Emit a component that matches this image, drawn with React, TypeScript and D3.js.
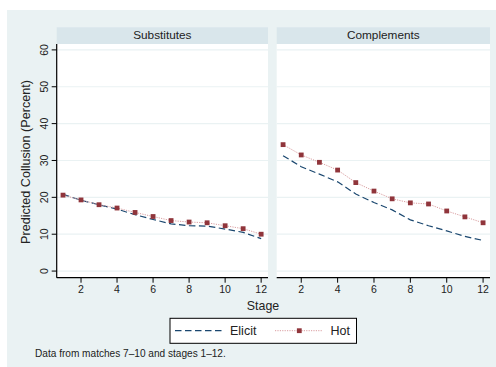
import React from "react";
import * as d3 from "d3";

const stages = [1, 2, 3, 4, 5, 6, 7, 8, 9, 10, 11, 12];
const panels = ["Substitutes", "Complements"];
const subElicit = [20.8, 19.2, 18.0, 16.8, 15.3, 14.0, 12.8, 12.3, 12.2, 11.4, 10.5, 8.8];
const subHot = [20.6, 19.3, 18.0, 17.1, 15.9, 14.8, 13.7, 13.3, 13.1, 12.3, 11.5, 10.0];
const compElicit = [31.3, 28.3, 26.3, 24.2, 20.9, 18.6, 16.6, 13.9, 12.3, 10.9, 9.4, 8.3];
const compHot = [34.3, 31.5, 29.5, 27.4, 24.0, 21.7, 19.6, 18.5, 18.2, 16.3, 14.7, 13.1];
const yTicks = [0, 10, 20, 30, 40, 50, 60];
const xTicks = [2, 4, 6, 8, 10, 12];
const seriesNames = ["Elicit", "Hot"];

const FONT = "'Liberation Sans', Arial, Helvetica, sans-serif";
const NAVY = "#1a476f";
const MAROON = "#90353b";
const HOTLINE = "#d99da0";
const BG = "#eaf2f3";
const STRIP = "#d9e6eb";

export default function App() {
  const top = 44;
  const bottom = 277.7;
  const y = d3.scaleLinear().domain([-1.8, 61.6]).range([bottom, top]);
  const ranges: [number, number][] = [
    [56.7, 268],
    [276.7, 490],
  ];
  const data = [
    [subElicit, subHot],
    [compElicit, compHot],
  ];

  return (
    <svg
      width={496}
      height={367}
      style={{ position: "absolute", left: 0, top: 0, fontFamily: FONT }}
    >
      <rect x={0} y={0} width={496} height={367} fill="#ffffff" />
      <rect x={7} y={10} width={489} height={357} fill={BG} />
      {panels.map((name, pi) => {
        const [x0, x1] = ranges[pi];
        const x = d3.scaleLinear().domain([0.65, 12.38]).range([x0, x1]);
        const [el, hot] = data[pi];
        const lineEl = d3
          .line<number>()
          .x((_, i) => x(stages[i]))
          .y((d) => y(d))
          .curve(d3.curveLinear)(el) as string;
        const lineHot = d3
          .line<number>()
          .x((_, i) => x(stages[i]))
          .y((d) => y(d))(hot) as string;
        return (
          <g key={name}>
            <rect x={x0} y={27.3} width={x1 - x0} height={top - 27.3} fill={STRIP} />
            <text
              x={(x0 + x1) / 2}
              y={38.8}
              textAnchor="middle"
              fontSize={11.8}
              fill="#222"
            >
              {name}
            </text>
            <rect x={x0} y={top} width={x1 - x0} height={bottom - top} fill="#ffffff" />
            {yTicks.map((t) => (
              <line
                key={t}
                x1={x0}
                x2={x1}
                y1={y(t)}
                y2={y(t)}
                stroke={BG}
                strokeWidth={1.2}
              />
            ))}
            <path d={lineEl} fill="none" stroke={NAVY} strokeWidth={1.2} strokeDasharray="6.5,3.5" />
            <path d={lineHot} fill="none" stroke={HOTLINE} strokeWidth={1} strokeDasharray="1.2,1.2" />
            {hot.map((v, i) => (
              <rect
                key={i}
                x={x(stages[i]) - 2.4}
                y={y(v) - 2.4}
                width={4.8}
                height={4.8}
                fill={MAROON}
              />
            ))}
            <line x1={x0} x2={x1} y1={bottom} y2={bottom} stroke="#000" strokeWidth={1.2} />
            {xTicks.map((t) => (
              <g key={t}>
                <line x1={x(t)} x2={x(t)} y1={bottom} y2={bottom + 5} stroke="#000" strokeWidth={1} />
                <text x={x(t)} y={292.5} textAnchor="middle" fontSize={10.5} fill="#222">
                  {t}
                </text>
              </g>
            ))}
            {pi === 0 && (
              <g>
                <line x1={x0} x2={x0} y1={top} y2={bottom} stroke="#000" strokeWidth={1.2} />
                {yTicks.map((t) => (
                  <g key={t}>
                    <line x1={x0 - 5} x2={x0} y1={y(t)} y2={y(t)} stroke="#000" strokeWidth={1} />
                    <text
                      transform={`translate(47.5,${y(t)}) rotate(-90)`}
                      textAnchor="middle"
                      fontSize={10.5}
                      fill="#222"
                    >
                      {t}
                    </text>
                  </g>
                ))}
              </g>
            )}
          </g>
        );
      })}
      <text
        transform={`translate(29.5,162) rotate(-90)`}
        textAnchor="middle"
        fontSize={12.6}
        fill="#222"
      >
        Predicted Collusion (Percent)
      </text>
      <text x={263} y={310} textAnchor="middle" fontSize={12.4} fill="#222">
        Stage
      </text>
      <g>
        <rect x={170} y={318.3} width={186.5} height={25} fill="#ffffff" stroke="#000" strokeWidth={1} />
        <line x1={175} x2={223} y1={330.7} y2={330.7} stroke={NAVY} strokeWidth={1.2} strokeDasharray="6.5,3.5" />
        <text x={230} y={335} fontSize={12.5} fill="#222">
          {seriesNames[0]}
        </text>
        <line x1={275} x2={323} y1={330.7} y2={330.7} stroke={HOTLINE} strokeWidth={1} strokeDasharray="1.2,1.2" />
        <rect x={299.3 - 2.4} y={330.7 - 2.4} width={4.8} height={4.8} fill={MAROON} />
        <text x={330.5} y={335} fontSize={12.5} fill="#222">
          {seriesNames[1]}
        </text>
      </g>
      <text x={35} y={356.5} fontSize={10.1} fill="#222">
        Data from matches 7–10 and stages 1–12.
      </text>
    </svg>
  );
}
